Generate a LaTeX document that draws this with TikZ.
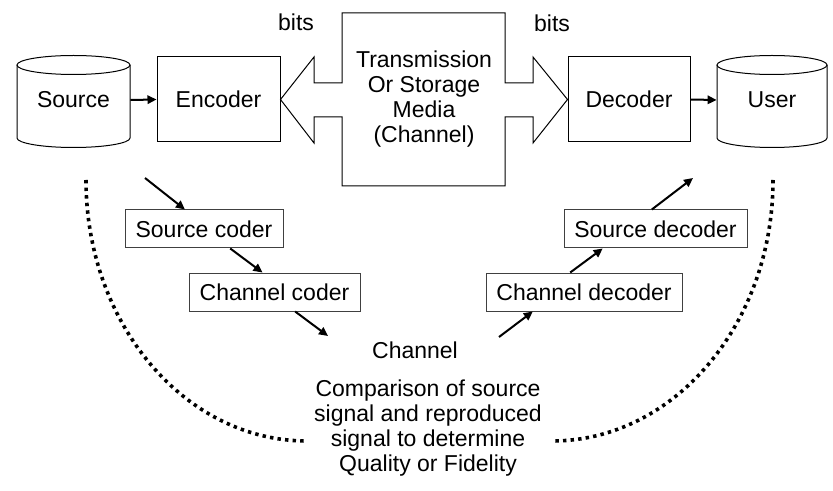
\documentclass[tikz,border=0pt]{standalone}
\usepackage{fontspec}
\setmainfont{Liberation Sans}
\usetikzlibrary{arrows.meta,calc}
\newcommand\labfont{\fontsize{11.5}{12.5}\selectfont}
\begin{document}
\begin{tikzpicture}[x=0.5pt,y=-0.5pt,
  every node/.style={font=\labfont, inner sep=0pt},
  bigbox/.style={draw, line width=0.5pt, minimum height=42.5pt},
  smallbox/.style={draw=black!75, line width=0.5pt, minimum height=19pt},
  holder/.style={minimum height=41pt},
  arr/.style={line width=1pt, -{Triangle[length=4.5pt,width=4.2pt]}},
  outline/.style={line width=0.5pt},
  dotline/.style={line width=1.8pt, dash pattern=on 1.7pt off 2.1pt}]
\useasboundingbox (0,0) rectangle (833,491);

% cylinders for source and user
\foreach \cx/\rx in {73.5/56.5, 772/55}{
  \draw[outline] (\cx,65) ellipse [x radius=\rx, y radius=9.5];
  \draw[outline] (\cx-\rx,65) -- (\cx-\rx,138)
    .. controls (\cx-\rx,143.2) and (\cx-0.5523*\rx,147.5) .. (\cx,147.5)
    .. controls (\cx+0.5523*\rx,147.5) and (\cx+\rx,143.2) .. (\cx+\rx,138)
    -- (\cx+\rx,65);
}
\node[holder, minimum width=56.5pt] (source) at (73.5,100) {Source};
\node[holder, minimum width=55pt] (user) at (772,100) {User};

% encoder and decoder
\node[bigbox, minimum width=61.5pt] (encoder) at (218.5,99.5) {Encoder};
\node[bigbox, minimum width=61pt] (decoder) at (629,99.5) {Decoder};

\draw[arr] (source.east) -- (encoder.west);
\draw[arr] (decoder.east) -- (user.west);

% channel block with its two hollow arrows
\draw[outline] (342,13) -- (505,13) -- (505,83) -- (533,83) -- (533,57)
  -- (decoder.west) -- (533,143) -- (533,117) -- (505,117) -- (505,186)
  -- (342,186) -- (342,117) -- (314,117) -- (314,143) -- (encoder.east)
  -- (314,57) -- (314,83) -- (342,83) -- cycle;
\node[align=center] (media) at (424,99) {Transmission\\Or Storage\\Media\\(Channel)};
\node (bitsl) at (296,22) {bits};
\node (bitsr) at (552,23) {bits};

% coder chain
\node[smallbox, minimum width=79pt] (scoder) at (204,229) {Source coder};
\node[smallbox, minimum width=85.5pt] (ccoder) at (274.5,292) {Channel coder};
\node[smallbox, minimum width=98pt] (cdecoder) at (584,292) {Channel decoder};
\node[smallbox, minimum width=91.5pt] (sdecoder) at (655.5,229) {Source decoder};
\node (chan) at (415,350) {Channel};

\coordinate (inA) at (145,178);
\coordinate (outA) at (328,336);
\coordinate (inB) at (499,337);
\coordinate (outB) at (693,178);

\draw[arr] (inA) -- ($(scoder.north west)!0.38!(scoder.north east)$);
\draw[arr] ($(scoder.south west)!0.665!(scoder.south east)$) -- ($(ccoder.north west)!0.43!(ccoder.north east)$);
\draw[arr] ($(ccoder.south west)!0.62!(ccoder.south east)$) -- (outA);
\draw[arr] (inB) -- ($(cdecoder.south west)!0.24!(cdecoder.south east)$);
\draw[arr] ($(cdecoder.north west)!0.43!(cdecoder.north east)$) -- ($(sdecoder.south west)!0.213!(sdecoder.south east)$);
\draw[arr] ($(sdecoder.north west)!0.48!(sdecoder.north east)$) -- (outB);

% comparison arcs
\draw[dotline] (86,180) .. controls (86,324) and (185,441) .. (307,441);
\draw[dotline] (773,180) .. controls (773,324) and (674,441) .. (552,441);
\node[align=center] (compare) at (428,428) {Comparison of source\\signal and reproduced\\signal to determine\\Quality or Fidelity};
\end{tikzpicture}
\end{document}
